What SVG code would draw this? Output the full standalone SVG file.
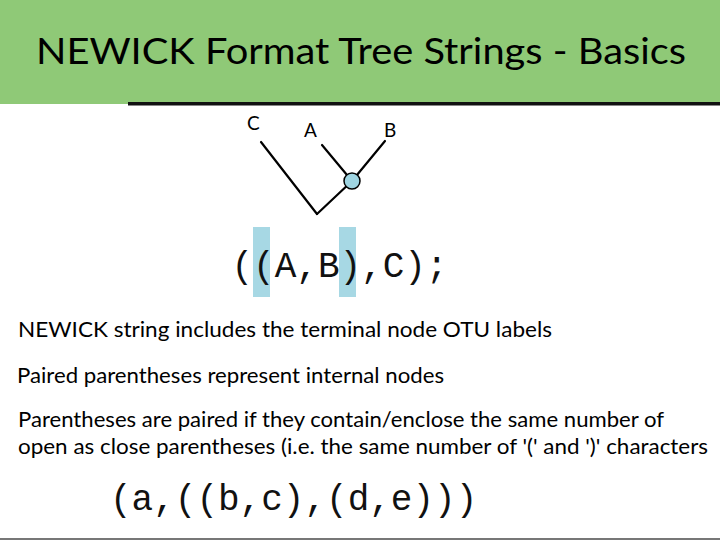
<svg xmlns="http://www.w3.org/2000/svg" width="720" height="540" viewBox="0 0 720 540">
<style>
.sans{font-family:Lato,"Open Sans","Liberation Sans",sans-serif;fill:#000}
.mono{font-family:"Liberation Mono","Courier New",monospace;fill:#111;font-size:36px}
.lbl{font-family:Lato,"Open Sans","Liberation Sans",sans-serif;font-size:19px;fill:#000}
.edge{stroke:#000;stroke-width:2.2;fill:none;stroke-linecap:round}
</style>
<rect x="0" y="0" width="720" height="540" fill="#fff"/>
<rect x="0" y="0" width="720" height="104" fill="#8fc977"/>
<rect x="128" y="102" width="592" height="3.5" fill="#111"/>
<rect x="0" y="538" width="720" height="2" fill="#777"/>
<text class="sans" x="36" y="64" font-size="36" textLength="650" lengthAdjust="spacingAndGlyphs">NEWICK Format Tree Strings - Basics</text>
<g id="connectors">
<line class="edge" x1="261" y1="142" x2="317" y2="214"/>
<line class="edge" x1="317" y1="214" x2="352" y2="181"/>
<line class="edge" x1="322" y1="145" x2="352" y2="181"/>
<line class="edge" x1="385" y1="141" x2="352" y2="181"/>
</g>
<g id="node-C"><text class="lbl" x="247" y="130">C</text></g>
<g id="node-A"><text class="lbl" x="304" y="137">A</text></g>
<g id="node-B"><text class="lbl" x="384" y="137">B</text></g>
<g id="node-internal"><circle cx="352" cy="181" r="8" fill="#9fd5e2" stroke="#000" stroke-width="1.5"/></g>
<rect x="253" y="227" width="17" height="70" fill="#a7d8e4"/>
<rect x="339" y="227" width="17" height="70" fill="#a7d8e4"/>
<text class="mono" x="231.5" y="277">((A,B),C);</text>
<text class="sans" x="18" y="337" font-size="22" textLength="534" lengthAdjust="spacingAndGlyphs">NEWICK string includes the terminal node OTU labels</text>
<text class="sans" x="17" y="383" font-size="22" textLength="427" lengthAdjust="spacingAndGlyphs">Paired parentheses represent internal nodes</text>
<text class="sans" x="18" y="427" font-size="22" textLength="646" lengthAdjust="spacingAndGlyphs">Parentheses are paired if they contain/enclose the same number of</text>
<text class="sans" x="18" y="454" font-size="22" textLength="690" lengthAdjust="spacingAndGlyphs">open as close parentheses (i.e. the same number of '(' and ')' characters</text>
<text class="mono" x="110" y="510">(a,((b,c),(d,e)))</text>
</svg>
